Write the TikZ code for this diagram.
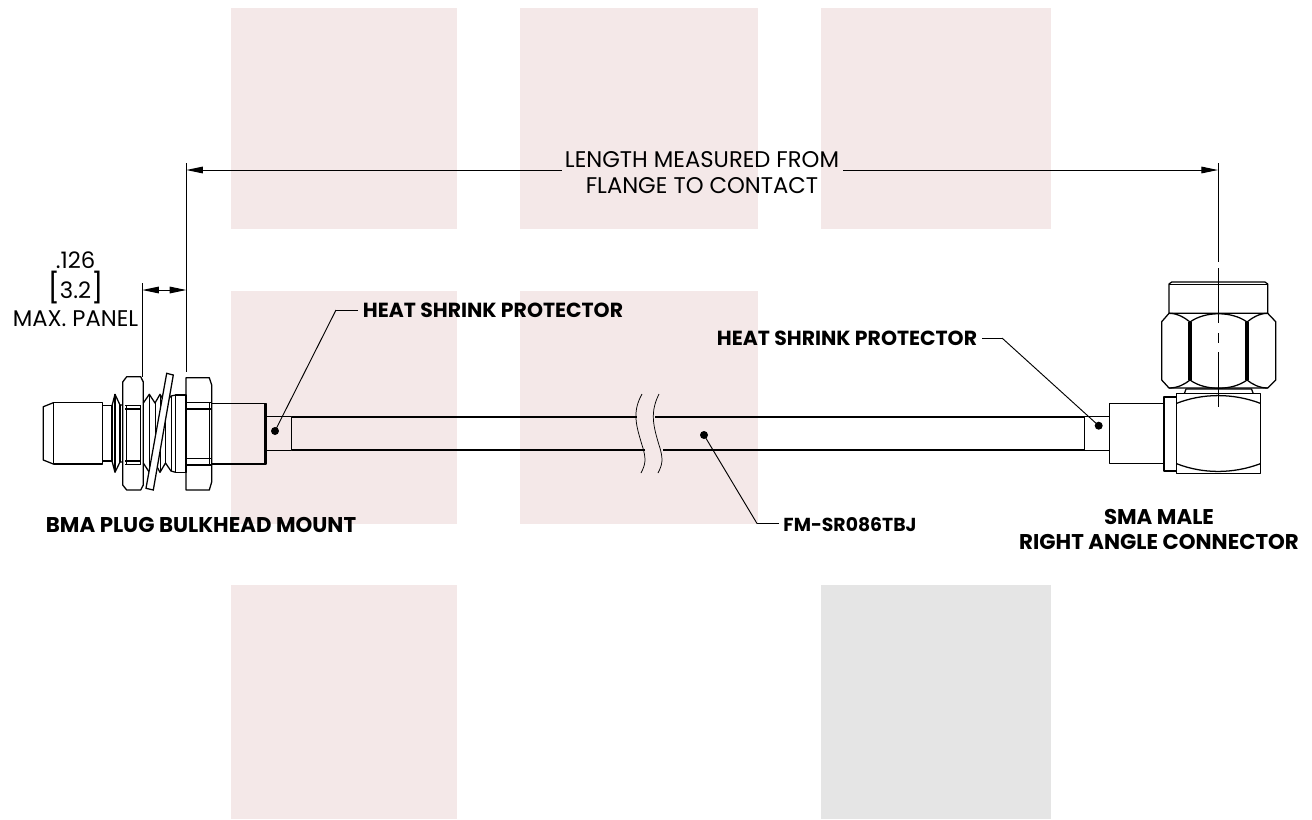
\documentclass[tikz,border=0pt]{standalone}
\usepackage{fontspec}
\setmainfont{Poppins}
\usepackage{tikz}
\usetikzlibrary{arrows.meta}
\definecolor{blockpink}{HTML}{F4E8E8}
\definecolor{blockgrey}{HTML}{E5E5E5}

\begin{document}
\begin{tikzpicture}[
x=0.75pt,y=-0.75pt,
part/.style={draw=black, line width=0.95pt, line join=round},
thin part/.style={draw=black, line width=0.55pt},
leader/.style={draw=black, line width=0.7pt},
dim/.style={draw=black, line width=0.75pt},
callout/.style={inner sep=0pt, font=\fontsize{16}{18.2}\selectfont\bfseries, align=center},
shrink/.style={callout, font=\fontsize{15.3}{18}\selectfont\bfseries},
note/.style={inner sep=0pt, font=\fontsize{17}{19.6}\selectfont, align=center},
dot/.style={circle, fill=black, inner sep=0pt, minimum size=6pt},
]
\useasboundingbox (0,0) rectangle (1312,819);

% background blocks
\fill[blockpink] (231,8) rectangle (457,229);
\fill[blockpink] (520,8) rectangle (758,229);
\fill[blockpink] (821,8) rectangle (1051,229);
\fill[blockpink] (231,291) rectangle (457,524);
\fill[blockpink] (520,291) rectangle (758,524);
\fill[blockpink] (231,585) rectangle (457,819);
\fill[blockgrey] (821,585) rectangle (1051,819);

% cable
\draw[part] (292,417) -- (637,417) (655,417) -- (1085,417);
\draw[part] (292,450) -- (645,450) (663,450) -- (1085,450);
\draw[thin part] (642,394) .. controls (632,412) and (636,425) .. (642,445) .. controls (647,460) and (645,465) .. (641,473);
\draw[thin part] (659,394) .. controls (650,412) and (653,425) .. (659,445) .. controls (664,460) and (662,465) .. (658,473);

% left connector
\draw[part] (53.3,402.7) -- (43.3,406.7) -- (43.3,460) -- (53.3,464);
\draw[part] (53.3,402.7) rectangle (102.7,464);
\draw[part] (102.7,405.7) rectangle (112,461);
\draw[part] (112,405.7) -- (115,394.3) -- (120,405) -- (122.7,405);
\draw[part] (112,461) -- (115,472.3) -- (120,462) -- (122.7,462);
\draw[part] (115,394.3) -- (115,472.3);
\draw[part] (120,405) -- (120,462);
% left nut
\draw[part] (126.7,376.7) -- (140.7,376.7) -- (143.3,382) -- (143.3,485) -- (140.7,490) -- (126.7,490) -- (122.7,485) -- (122.7,382) -- cycle;
\draw[part] (125,405.7) -- (141,405.7) (125,409) -- (141,409);
\draw[part] (125,461) -- (141,461) (125,464.5) -- (141,464.5);
\draw[thin part] (126,405.7) -- (126,464.5) (140.7,405.7) -- (140.7,464.5);
% thread
\draw[part] (143.3,403) -- (149.3,394.3) -- (155,403) -- (160,394.3) -- (165.5,403) -- (171,396) -- (175.7,395);
\draw[part] (143.3,463) -- (149.3,472.3) -- (155,463) -- (160,472.3) -- (165.5,463) -- (171,471) -- (175.7,472.3);
\foreach \tx in {149.3,160,171}
  \draw[thin part] (\tx,396) -- (\tx,471);
\foreach \tx in {155,165.5}
  \draw[thin part] (\tx,403) -- (\tx,463);
% lock washer
\path[fill=white, draw=black, line width=0.95pt] (166.7,373.3) -- (173.3,375) -- (153.3,490) -- (146,488.3) -- cycle;
% washer and flange nut
\draw[part] (175.7,395) rectangle (186,472.3);
\draw[part] (186,377.7) -- (209.3,377.7) -- (211.7,385) -- (211.7,482) -- (209.3,490) -- (186,490) -- cycle;
\draw[part] (186,402.3) -- (211.7,402.3) (186,409) -- (211.7,409);
\draw[part] (186,458.3) -- (211.7,458.3) (186,465) -- (211.7,465);
\draw[thin part] (209.3,402.3) -- (209.3,465);
% left body and heat shrink
\draw[part] (211.7,403.3) -- (266,403.3) -- (266,464) -- (211.7,464);
\draw[draw=black, line width=2pt] (265,403.3) -- (265,464);
\draw[part] (266,416.7) rectangle (291.7,450.7);

% right connector
\draw[part] (1084.7,416.7) rectangle (1109.7,450.7);
\draw[part] (1109.7,403.7) rectangle (1164,463.3);
\draw[part] (1164,397) rectangle (1176.7,471);
\draw[part] (1176.7,393.7) rectangle (1260.3,473.7);
\draw[part] (1176.7,403.3) .. controls (1203,393) and (1233,393) .. (1260.3,403.3);
\draw[part] (1176.7,463.7) .. controls (1203,474) and (1233,474) .. (1260.3,463.7);
\draw[part] (1184.3,393.7) -- (1186,389) -- (1251.5,389) -- (1253.3,393.7);
% coupling nut
\draw[part] (1169,313.3) -- (1169,284) -- (1171.7,282) -- (1265,282) -- (1267.7,284) -- (1267.7,313.3) -- cycle;
\draw[thin part] (1169,284) -- (1267.7,284);
\draw[part] (1169,313.3) -- (1161.7,321.7) -- (1161.7,380) -- (1169,388) -- (1267.7,388) -- (1275.7,380) -- (1275.7,321.7) -- (1267.7,313.3);
\draw[part] (1189,322) -- (1189,380) (1191,322) -- (1191,380);
\draw[part] (1246,322) -- (1246,380) (1248,322) -- (1248,380);
\draw[part] (1169,313.3) .. controls (1178,313.3) and (1185,318) .. (1190,322) .. controls (1205,311) and (1232,311) .. (1247,322) .. controls (1252,318) and (1259,313.3) .. (1267.7,313.3);
\draw[part] (1169,388) .. controls (1178,388) and (1185,384) .. (1190,380) .. controls (1205,391) and (1232,391) .. (1247,380) .. controls (1252,384) and (1259,388) .. (1267.7,388);

% labels
\node[note] (lengthnote) at (702,173) {LENGTH MEASURED FROM\\FLANGE TO CONTACT};
\node[note] (paneltext) at (75.5,319) {MAX. PANEL};
\node[note] (panelsize) at (75.5,288) {{\fontsize{22}{22}\selectfont[}3.2{\fontsize{22}{22}\selectfont]}};
\node[note] (panelvalue) at (75.5,260) {.126};
\node[shrink] (shrinkleft) at (493,310) {HEAT SHRINK PROTECTOR};
\node[shrink] (shrinkright) at (847,338) {HEAT SHRINK PROTECTOR};
\node[callout, font=\fontsize{14.1}{18}\selectfont\bfseries] (cablelabel) at (850,525) {FM-SR086TBJ};
\node[callout] (bmalabel) at (201,525) {BMA PLUG BULKHEAD MOUNT};
\node[callout] (smalabel) at (1159,529.5) {SMA MALE\\RIGHT ANGLE CONNECTOR};

% dots
\node[dot] (dotleft) at (275,431) {};
\node[dot] (dotcable) at (704,435) {};
\node[dot] (dotright) at (1098.7,425.7) {};

% leaders
\coordinate (kneeleft) at (336,310);
\coordinate (endleft) at (358,310);
\coordinate (kneeright) at (1002,338);
\coordinate (endright) at (982,338);
\coordinate (kneecable) at (757,523.5);
\coordinate (endcable) at (779,523.5);
\path[leader]
(endleft) edge (kneeleft)
(kneeleft) edge (dotleft.center)
(endright) edge (kneeright)
(kneeright) edge (dotright.center)
(endcable) edge (kneecable)
(kneecable) edge (dotcable.center)
;

% dimensions
\coordinate (flangetop) at (186.3,163);
\coordinate (flangelow) at (186.3,372);
\coordinate (panellow) at (142.3,377);
\coordinate (paneltop) at (142.3,283);
\coordinate (contacttop) at (1218,163);
\coordinate (contactlow) at (1218,407);
\coordinate (dimleft) at (186.3,170);
\coordinate (dimbreakl) at (562,170);
\coordinate (dimbreakr) at (843,170);
\coordinate (dimright) at (1218,170);
\coordinate (panelleft) at (142.3,290);
\coordinate (panelright) at (186.3,290);
\draw[dim] (flangetop) -- (flangelow);
\draw[dim] (paneltop) -- (panellow);
\draw[dim, {Triangle[length=12.5pt,width=5pt]}-] (dimleft) -- (dimbreakl);
\draw[dim, {Triangle[length=12.5pt,width=5pt]}-] (dimright) -- (dimbreakr);
\draw[dim, {Triangle[length=12.5pt,width=5pt]}-{Triangle[length=12.5pt,width=5pt]}] (panelleft) -- (panelright);
\draw[dim, dash pattern=on 74pt off 5pt on 41.2pt off 7.5pt on 7.5pt off 6.7pt on 41.3pt off 5pt] (contacttop) -- (contactlow);
\end{tikzpicture}
\end{document}
